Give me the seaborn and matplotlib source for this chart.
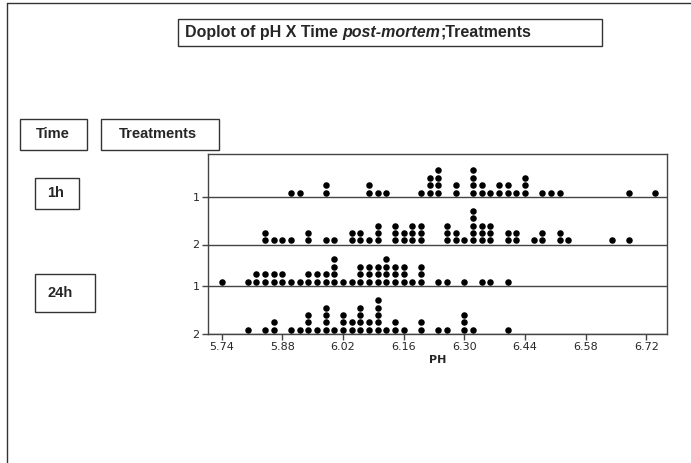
import numpy as np
import pandas as pd
import seaborn as sns
import matplotlib
matplotlib.use('Agg')
import matplotlib.pyplot as plt
from matplotlib.patches import Rectangle

sns.set_theme(style='white')
plt.rcParams['font.family'] = ['DejaVu Sans']

# pH readings per group
ph_1h_t1 = [5.90, 5.92, 5.98, 5.98, 6.08, 6.08, 6.10, 6.12, 6.20, 6.22, 6.22, 6.22,
            6.24, 6.24, 6.24, 6.24, 6.28, 6.28, 6.32, 6.32, 6.32, 6.32, 6.34, 6.34,
            6.36, 6.38, 6.38, 6.40, 6.40, 6.42, 6.44, 6.44, 6.44, 6.48, 6.50, 6.52,
            6.68, 6.74]
ph_1h_t2 = [5.84, 5.84, 5.86, 5.88, 5.90, 5.94, 5.94, 5.98, 6.00, 6.04, 6.04, 6.06,
            6.06, 6.08, 6.10, 6.10, 6.10, 6.14, 6.14, 6.14, 6.16, 6.16, 6.18, 6.18,
            6.18, 6.20, 6.20, 6.20, 6.26, 6.26, 6.26, 6.28, 6.28, 6.30, 6.32, 6.32,
            6.32, 6.32, 6.32, 6.34, 6.34, 6.34, 6.36, 6.36, 6.36, 6.40, 6.40, 6.42,
            6.42, 6.46, 6.48, 6.48, 6.52, 6.52, 6.54, 6.64, 6.68]
ph_24h_t1 = [5.74, 5.80, 5.82, 5.82, 5.84, 5.84, 5.86, 5.86, 5.88, 5.88, 5.90, 5.92,
             5.94, 5.94, 5.96, 5.96, 5.98, 5.98, 6.00, 6.00, 6.00, 6.00, 6.02, 6.04,
             6.06, 6.06, 6.06, 6.08, 6.08, 6.08, 6.10, 6.10, 6.10, 6.12, 6.12, 6.12,
             6.12, 6.14, 6.14, 6.14, 6.16, 6.16, 6.16, 6.18, 6.20, 6.20, 6.20, 6.24,
             6.26, 6.30, 6.34, 6.36, 6.40]
ph_24h_t2 = [5.80, 5.84, 5.86, 5.86, 5.90, 5.92, 5.94, 5.94, 5.94, 5.96, 5.98, 5.98,
             5.98, 5.98, 6.00, 6.02, 6.02, 6.02, 6.04, 6.04, 6.06, 6.06, 6.06, 6.06,
             6.08, 6.08, 6.10, 6.10, 6.10, 6.10, 6.10, 6.12, 6.14, 6.14, 6.16, 6.20,
             6.20, 6.24, 6.26, 6.30, 6.30, 6.30, 6.32, 6.40]

groups = ['1h-1', '1h-2', '24h-1', '24h-2']
tick_labels = ['1', '2', '1', '2']
xticks = [5.74, 5.88, 6.02, 6.16, 6.30, 6.44, 6.58, 6.72]

# row baselines (axis units, bottom = 0)
baselines = [137.3, 89.5, 48.3, 0.0]

frames = []
for g, vals in zip(groups, [ph_1h_t1, ph_1h_t2, ph_24h_t1, ph_24h_t2]):
    frames.append(pd.DataFrame({'group': g, 'pH': vals}))
df = pd.concat(frames, ignore_index=True)
df['stack'] = df.groupby(['group', 'pH']).cumcount()
base_map = dict(zip(groups, baselines))
df['y'] = df['group'].map(base_map) + 4.2 + 7.4 * df['stack']

W, H = 691, 463
fig = plt.figure(figsize=(W / 100, H / 100), dpi=100)
ax = fig.add_axes([208 / W, 1 - 334 / H, (667 - 208) / W, (334 - 154) / H])

sns.scatterplot(data=df, x='pH', y='y', color='black', s=22, marker='o',
                edgecolor='black', linewidth=0, ax=ax, legend=False)

for b in baselines:
    ax.axhline(b, color='#444444', lw=1.0, zorder=0)

ax.set_xlim(5.708, 6.768)
ax.set_ylim(0, 180)
ax.set_xticks(xticks)
ax.set_xticklabels([f'{t:.2f}' for t in xticks], fontsize=8)
ax.set_yticks(baselines)
ax.set_yticklabels(tick_labels, fontsize=8)
ax.tick_params(axis='both', length=4, width=1, color='#444444', pad=2,
               bottom=True, left=True)
for sp in ax.spines.values():
    sp.set_color('#444444')
    sp.set_linewidth(1.0)
ax.set_xlabel('PH', fontsize=8, fontweight='bold', labelpad=2)
ax.set_ylabel('')


def px(x, y):
    return x / W, 1 - y / H


def box(x0, y0, x1, y1):
    fx, fy = px(x0, y1)
    fig.patches.append(Rectangle((fx, fy), (x1 - x0) / W, (y1 - y0) / H,
                                 transform=fig.transFigure, fill=False,
                                 edgecolor='#333333', lw=1.0))


narrow = ['Liberation Sans Narrow', 'Liberation Sans', 'DejaVu Sans']

# outer frame (left and top edges visible)
fig.add_artist(plt.Line2D([7 / W, 7 / W], [0, 1 - 3 / H], color='#333333',
                          lw=1.0, transform=fig.transFigure))
fig.add_artist(plt.Line2D([7 / W, 1], [1 - 3 / H, 1 - 3 / H], color='#333333',
                          lw=1.0, transform=fig.transFigure))

# title box with mixed styles
box(178, 19, 602, 46)
renderer = fig.canvas.get_renderer()
tx, ty = px(185, 32)
parts = [('Doplot of pH X Time ', 'normal'), ('post-mortem', 'italic'),
         (';Treatments', 'normal')]
for txt, style in parts:
    t = fig.text(tx, ty, txt, fontsize=11.5, fontweight='bold', style=style,
                 family=narrow, va='center', ha='left')
    bb = t.get_window_extent(renderer=renderer)
    tx += bb.width / W

box(20, 119, 87, 150)
fig.text(*px(53, 134), 'Time', fontsize=10.5, fontweight='bold', family=narrow,
         ha='center', va='center')
box(101, 119, 219, 150)
fig.text(*px(158, 134), 'Treatments', fontsize=10.5, fontweight='bold',
         family=narrow, ha='center', va='center')
box(35, 178, 79, 209)
fig.text(*px(56, 193), '1h', fontsize=10.5, fontweight='bold', family=narrow,
         ha='center', va='center')
box(35, 274, 95, 312)
fig.text(*px(60, 293), '24h', fontsize=10.5, fontweight='bold', family=narrow,
         ha='center', va='center')

fig.savefig('out.png', dpi=100, facecolor='white')
